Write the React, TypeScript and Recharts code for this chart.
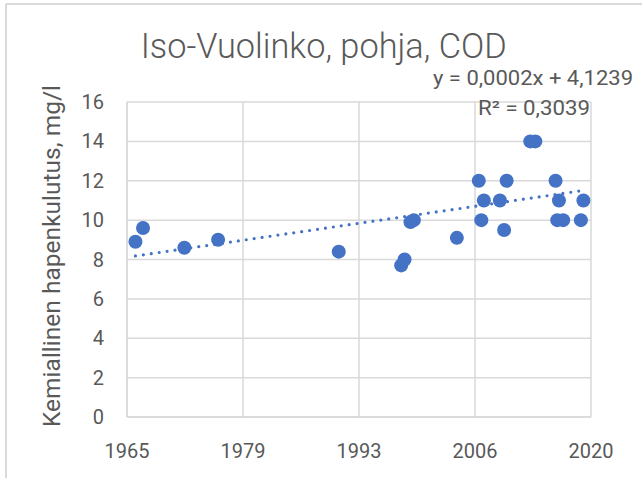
import { ScatterChart, Scatter, XAxis, YAxis, CartesianGrid } from "recharts";

// sample dates (decimal years) and COD values
const years = [
  1966.0, 1966.9, 1971.8, 1975.8, 1990.1, 1997.5, 1997.9, 1998.6, 1999.0, 2004.1,
  2006.7, 2007.0, 2007.3, 2009.2, 2009.7, 2010.0, 2012.8, 2013.4, 2015.8, 2016.0,
  2016.2, 2016.7, 2018.8, 2019.1,
];
const cod = [
  8.9, 9.6, 8.6, 9.0, 8.4, 7.7, 8.0, 9.9, 10.0, 9.1,
  12, 10, 11, 11, 9.5, 12, 14, 14, 12, 10,
  11, 10, 10, 11,
];

// linear trendline end points as drawn
const trendYears = [1966.0, 2018.8];
const trendCod = [8.18, 11.49];

const xTicks = [1965, 1978.75, 1992.5, 2006.25, 2020];
const xTickLabels = ["1965", "1979", "1993", "2006", "2020"];
const yTicks = [0, 2, 4, 6, 8, 10, 12, 14, 16];

const points = years.map((x, i) => ({ x, y: cod[i] }));
const trend = trendYears.map((x, i) => ({ x, y: trendCod[i] }));

const BLUE = "#4472C4";
const TEXT = "#595959";
const GRID = "#d9d9d9";
const FONT = "Roboto, 'Noto Sans', sans-serif";

const Dot = (props: any) => <circle cx={props.cx} cy={props.cy} r={7} fill={BLUE} />;

export default function App() {
  return (
    <div style={{ position: "absolute", left: 0, top: 0, width: 642, height: 478, background: "#fff" }}>
      <ScatterChart width={642} height={478} margin={{ top: 102, right: 51, bottom: 0, left: 67 }}>
        <CartesianGrid stroke={GRID} strokeWidth={1.5} />
        <XAxis
          type="number"
          dataKey="x"
          domain={[1965, 2020]}
          ticks={xTicks}
          tickFormatter={(v: number) => xTickLabels[xTicks.indexOf(v)]}
          allowDataOverflow
          height={61}
          tickLine={false}
          tickMargin={21}
          axisLine={{ stroke: GRID, strokeWidth: 1.5 }}
          tick={{ fill: TEXT, fontSize: 20, fontFamily: FONT }}
        />
        <YAxis
          type="number"
          dataKey="y"
          domain={[0, 16]}
          ticks={yTicks}
          width={60}
          tickLine={false}
          tickMargin={17}
          axisLine={{ stroke: GRID, strokeWidth: 1.5 }}
          tick={{ fill: TEXT, fontSize: 20, fontFamily: FONT }}
        />
        <Scatter
          data={trend}
          isAnimationActive={false}
          line={{ stroke: BLUE, strokeWidth: 3.2, strokeDasharray: "0 8", strokeLinecap: "round" }}
          shape={() => <g />}
        />
        <Scatter data={points} isAnimationActive={false} shape={Dot} />
      </ScatterChart>
      <svg
        width={642}
        height={478}
        style={{ position: "absolute", left: 0, top: 0, pointerEvents: "none" }}
        fontFamily={FONT}
        fill={TEXT}
      >
        <line x1={6} y1={4} x2={642} y2={4} stroke={GRID} strokeWidth={2} />
        <line x1={6} y1={4} x2={6} y2={478} stroke={GRID} strokeWidth={2} />
        <text
          x={323.7}
          y={58.3}
          fontSize={35}
          fontWeight={300}
          textAnchor="middle"
          textLength={366}
          lengthAdjust="spacingAndGlyphs"
        >
          Iso-Vuolinko, pohja, COD
        </text>
        <text x={533} y={85} fontSize={20} textAnchor="middle" textLength={200} lengthAdjust="spacingAndGlyphs">
          y = 0,0002x + 4,1239
        </text>
        <text x={534} y={115} fontSize={20} textAnchor="middle" textLength={112} lengthAdjust="spacingAndGlyphs">
          R² = 0,3039
        </text>
        <text
          x={0}
          y={0}
          fontSize={24}
          textAnchor="middle"
          textLength={342}
          lengthAdjust="spacingAndGlyphs"
          transform="translate(60 256) rotate(-90)"
        >
          Kemiallinen hapenkulutus, mg/l
        </text>
      </svg>
    </div>
  );
}
